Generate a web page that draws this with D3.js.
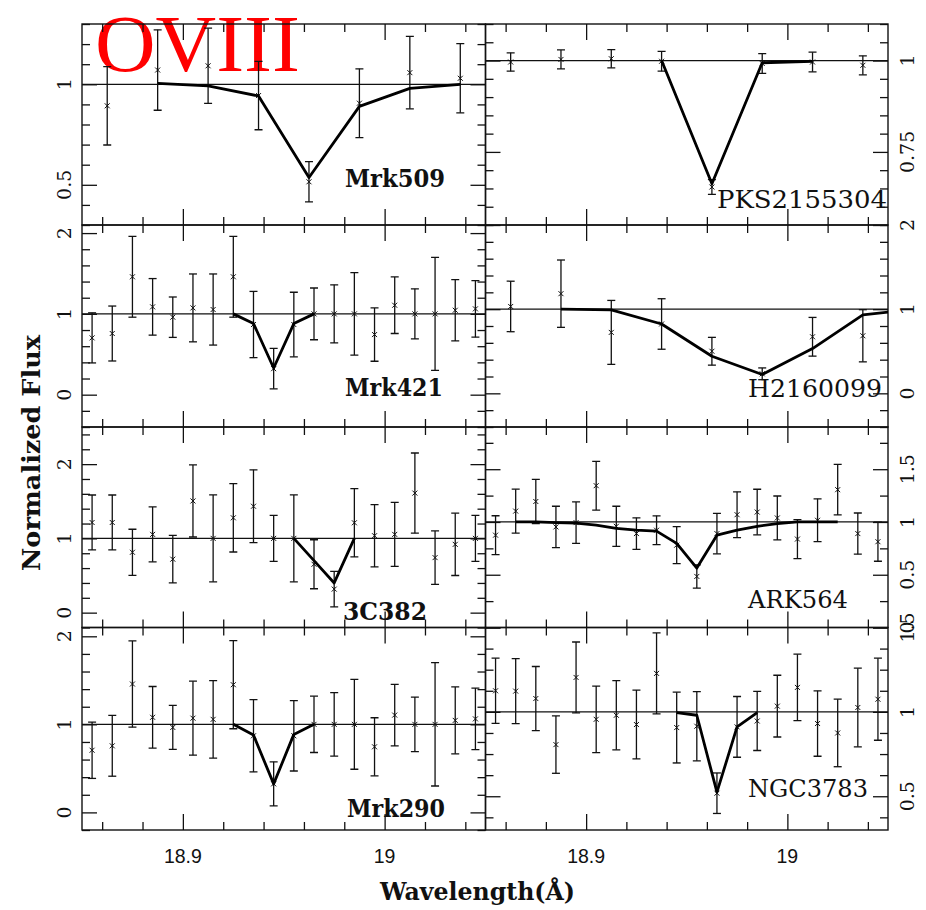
<!DOCTYPE html>
<html>
<head>
<meta charset="utf-8">
<script src="https://cdn.jsdelivr.net/npm/d3@7"></script>
<style>
  html, body { margin: 0; padding: 0; background: #ffffff; }
  svg { display: block; }
</style>
</head>
<body>
<svg id="chart" width="926" height="910"></svg>
<script>
// ---------------- DATA ----------------
const waveCoarse = [18.8625, 18.8875, 18.9125, 18.9375, 18.9625, 18.9875, 19.0125, 19.0375];
const waveFine = [18.855, 18.865, 18.875, 18.885, 18.895, 18.905, 18.915, 18.925, 18.935, 18.945,
                  18.955, 18.965, 18.975, 18.985, 18.995, 19.005, 19.015, 19.025, 19.035, 19.045];

// Mrk509
const mrk509Flux = [0.893, 1.071, 1.092, 0.944, 0.515, 0.906, 1.058, 1.030];
const mrk509Err  = [0.195, 0.200, 0.187, 0.170, 0.100, 0.171, 0.180, 0.172];
const mrk509ModelWave = [18.8875, 18.9125, 18.9375, 18.9625, 18.9875, 19.0125, 19.0375];
const mrk509Model     = [1.005, 0.992, 0.942, 0.536, 0.890, 0.980, 1.000];

// PKS2155304
const pksFlux = [0.996, 1.003, 1.005, 0.998, 0.654, 0.992, 0.996, 0.987];
const pksErr  = [0.025, 0.026, 0.025, 0.027, 0.020, 0.027, 0.027, 0.026];
const pksModelWave = [18.9375, 18.9625, 18.9875, 19.0125];
const pksModel     = [1.000, 0.663, 0.994, 0.998];

// Mrk421
const mrk421Flux = [0.703, 0.757, 1.459, 1.087, 0.959, 1.074, 1.054, 1.459, 0.868, 0.322,
                    0.868, 1.000, 1.000, 1.000, 0.744, 1.107, 1.000, 1.000, 1.045, 1.062];
const mrk421Err  = [0.31, 0.34, 0.50, 0.35, 0.25, 0.42, 0.44, 0.50, 0.41, 0.25,
                    0.40, 0.32, 0.36, 0.51, 0.33, 0.35, 0.31, 0.70, 0.38, 0.35];
const mrk421ModelWave = [18.925, 18.935, 18.945, 18.955, 18.965];
const mrk421Model     = [1.000, 0.880, 0.330, 0.880, 1.000];

// H2160099
const h216Flux = [1.032, 1.184, 0.724, 0.824, 0.500, 0.232, 0.672, 0.684];
const h216Err  = [0.30, 0.40, 0.38, 0.30, 0.165, 0.07, 0.23, 0.31];
const h216ModelWave = [18.8875, 18.9125, 18.9375, 18.9625, 18.9875, 19.0125, 19.0375, 19.0625];
const h216Model     = [1.000, 0.992, 0.824, 0.440, 0.224, 0.532, 0.932, 0.996];

// 3C382
const c382Flux = [1.214, 1.214, 0.813, 1.054, 0.720, 1.504, 1.000, 1.277, 1.433, 1.000,
                  1.000, 0.652, 0.317, 1.210, 1.036, 1.054, 1.610, 0.741, 0.920, 1.000];
const c382Err  = [0.37, 0.37, 0.31, 0.37, 0.32, 0.485, 0.585, 0.46, 0.49, 0.31,
                  0.585, 0.33, 0.24, 0.46, 0.42, 0.43, 0.54, 0.36, 0.42, 0.31];
const c382ModelWave = [18.955, 18.965, 18.975, 18.985];
const c382Model     = [1.000, 0.700, 0.400, 1.000];

// ARK564
const ark564Flux = [0.875, 1.103, 1.194, 0.953, 0.994, 1.344, 0.959, 0.890, 0.922, 0.780,
                    0.484, 0.890, 1.069, 1.094, 1.038, 0.838, 1.016, 1.306, 0.890, 0.813];
const ark564Err  = [0.184, 0.208, 0.210, 0.196, 0.196, 0.231, 0.190, 0.149, 0.136, 0.175,
                    0.110, 0.192, 0.217, 0.216, 0.208, 0.185, 0.203, 0.239, 0.195, 0.185];
const ark564ModelWave = [18.865, 18.875, 18.885, 18.895, 18.905, 18.915, 18.925, 18.935, 18.945,
                         18.955, 18.965, 18.975, 18.985, 18.995, 19.005, 19.015, 19.025];
const ark564Model     = [1.000, 1.000, 0.994, 0.990, 0.970, 0.940, 0.922, 0.913, 0.797,
                         0.563, 0.875, 0.922, 0.959, 0.984, 1.000, 1.000, 1.000];

// Mrk290
const mrk290Flux = [0.706, 0.756, 1.458, 1.080, 0.965, 1.070, 1.057, 1.450, 0.870, 0.324,
                    0.870, 1.000, 1.000, 1.000, 0.745, 1.105, 1.000, 1.000, 1.045, 1.062];
const mrk290Err  = [0.32, 0.345, 0.49, 0.35, 0.25, 0.42, 0.44, 0.50, 0.41, 0.25,
                    0.40, 0.32, 0.36, 0.51, 0.33, 0.35, 0.31, 0.70, 0.38, 0.35];
const mrk290ModelWave = [18.925, 18.935, 18.945, 18.955, 18.965];
const mrk290Model     = [1.000, 0.878, 0.324, 0.886, 1.000];

// NGC3783
const ngcFlux = [1.125, 1.123, 1.079, 0.806, 1.204, 0.956, 0.980, 0.925, 1.228, 0.907,
                 0.915, 0.518, 0.911, 0.946, 1.034, 1.145, 0.931, 0.875, 1.026, 1.075];
const ngcErr  = [0.193, 0.193, 0.190, 0.170, 0.210, 0.197, 0.205, 0.204, 0.240, 0.210,
                 0.205, 0.120, 0.180, 0.175, 0.183, 0.197, 0.194, 0.200, 0.233, 0.243];
const ngcModelWave = [18.945, 18.955, 18.965, 18.975, 18.985];
const ngcModel     = [0.996, 0.980, 0.524, 0.911, 0.996];

// Axis ticks / labels
const xDomain = [18.85, 19.05];
const xMinorTicks = [18.86, 18.88, 18.92, 18.94, 18.96, 18.98, 19.02, 19.04];
const xMajorTicks = [18.9, 19.0];
const xTickLabels = ["18.9", "19"];

const panelNames = ["Mrk509", "PKS2155304", "Mrk421", "H2160099", "3C382", "ARK564", "Mrk290", "NGC3783"];
const yDomains = [[0.3, 1.3], [0.55, 1.1], [-0.4, 2.1], [-0.4, 2.0], [-0.2, 2.5], [0, 1.9], [-0.2, 2.1], [0.3, 1.5]];
const yMajorSteps = [0.5, 0.25, 1, 1, 1, 0.5, 1, 0.5];
const yMinorSteps = [0.1, 0.05, 0.2, 0.2, 0.2, 0.25, 0.2, 0.125];
const yTickLabels = [["0.5", "1"], ["0.75", "1"], ["0", "1", "2"], ["0", "1", "2"],
                     ["0", "1", "2"], ["0", "0.5", "1", "1.5"], ["0", "1", "2"], ["0.5", "1", "1.5"]];

// ---------------- LAYOUT ----------------
const colX = [[82, 485.5], [485.5, 888]];
const rowY = [[24, 225], [225, 427], [427, 627.5], [627.5, 830]];
// label placement: [x start, baseline y, width, bold]
const labelPlace = [
  [345, 186.5, 100, true], [717, 208, 170, false],
  [345, 395.5, 98, true],  [748, 396.5, 134, false],
  [343, 620, 84, true],    [748, 608, 100, false],
  [347, 816.5, 98, true],  [748, 796.5, 120, false]
];

const panels = [
  {wave: waveCoarse, flux: mrk509Flux, err: mrk509Err, mw: mrk509ModelWave, m: mrk509Model},
  {wave: waveCoarse, flux: pksFlux, err: pksErr, mw: pksModelWave, m: pksModel},
  {wave: waveFine, flux: mrk421Flux, err: mrk421Err, mw: mrk421ModelWave, m: mrk421Model},
  {wave: waveCoarse, flux: h216Flux, err: h216Err, mw: h216ModelWave, m: h216Model},
  {wave: waveFine, flux: c382Flux, err: c382Err, mw: c382ModelWave, m: c382Model},
  {wave: waveFine, flux: ark564Flux, err: ark564Err, mw: ark564ModelWave, m: ark564Model},
  {wave: waveFine, flux: mrk290Flux, err: mrk290Err, mw: mrk290ModelWave, m: mrk290Model},
  {wave: waveFine, flux: ngcFlux, err: ngcErr, mw: ngcModelWave, m: ngcModel}
];

const svg = d3.select("#chart");
const ink = "#111";

// Title (drawn first, data over it)
svg.append("text")
  .attr("x", 95).attr("y", 71)
  .attr("font-family", "'Liberation Serif', 'Times New Roman', serif")
  .attr("font-size", 80)
  .attr("textLength", 205).attr("lengthAdjust", "spacingAndGlyphs")
  .attr("fill", "#ff0000")
  .text("OVIII");

const defs = svg.append("defs");

function stepTicks(domain, step, exclude) {
  const out = [];
  const start = Math.ceil(domain[0] / step - 1e-9);
  const end = Math.floor(domain[1] / step + 1e-9);
  for (let k = start; k <= end; k++) {
    const v = +(k * step).toFixed(6);
    if (exclude && Math.abs(v / exclude - Math.round(v / exclude)) < 1e-6) continue;
    out.push(v);
  }
  return out;
}

panels.forEach((p, i) => {
  const col = i % 2, row = Math.floor(i / 2);
  const [x0, x1] = colX[col];
  const [y0, y1] = rowY[row];
  const x = d3.scaleLinear().domain(xDomain).range([x0, x1]);
  const y = d3.scaleLinear().domain(yDomains[i]).range([y1, y0]);
  const g = svg.append("g");

  const clipId = "clip" + i;
  defs.append("clipPath").attr("id", clipId)
    .append("rect").attr("x", x0).attr("y", y0).attr("width", x1 - x0).attr("height", y1 - y0);

  // ticks (inward) on all four sides
  function addAxis(gen, tx, ty) {
    const a = g.append("g").attr("transform", `translate(${tx},${ty})`).call(gen);
    a.select(".domain").remove();
    a.selectAll("line").attr("stroke", ink).attr("stroke-width", 1.3);
    a.selectAll("text").remove();
  }
  addAxis(d3.axisBottom(x).tickValues(xMinorTicks).tickSize(-8).tickFormat(""), 0, y1);
  addAxis(d3.axisBottom(x).tickValues(xMajorTicks).tickSize(-16).tickFormat(""), 0, y1);
  addAxis(d3.axisTop(x).tickValues(xMinorTicks).tickSize(-8).tickFormat(""), 0, y0);
  addAxis(d3.axisTop(x).tickValues(xMajorTicks).tickSize(-16).tickFormat(""), 0, y0);

  const yMaj = stepTicks(yDomains[i], yMajorSteps[i], null);
  const yMin = stepTicks(yDomains[i], yMinorSteps[i], yMajorSteps[i]);
  addAxis(d3.axisLeft(y).tickValues(yMin).tickSize(-8).tickFormat(""), x0, 0);
  addAxis(d3.axisLeft(y).tickValues(yMaj).tickSize(-15).tickFormat(""), x0, 0);
  addAxis(d3.axisRight(y).tickValues(yMin).tickSize(-8).tickFormat(""), x1, 0);
  addAxis(d3.axisRight(y).tickValues(yMaj).tickSize(-15).tickFormat(""), x1, 0);

  // frame
  g.append("rect").attr("x", x0).attr("y", y0).attr("width", x1 - x0).attr("height", y1 - y0)
    .attr("fill", "none").attr("stroke", ink).attr("stroke-width", 1.4);

  // continuum at 1
  g.append("line").attr("x1", x0).attr("x2", x1).attr("y1", y(1)).attr("y2", y(1))
    .attr("stroke", ink).attr("stroke-width", 1.2);

  // error bars
  const pts = p.wave.map((w, k) => ({w, f: p.flux[k], e: p.err[k]}));
  const eb = g.append("g").attr("clip-path", `url(#${clipId})`)
    .attr("stroke", ink).attr("stroke-width", 1.3).attr("fill", "none");
  pts.forEach(d => {
    const cx = x(d.w), ylo = y(d.f - d.e), yhi = y(d.f + d.e);
    eb.append("line").attr("x1", cx).attr("x2", cx).attr("y1", ylo).attr("y2", yhi);
    eb.append("line").attr("x1", cx - 4).attr("x2", cx + 4).attr("y1", ylo).attr("y2", ylo);
    eb.append("line").attr("x1", cx - 4).attr("x2", cx + 4).attr("y1", yhi).attr("y2", yhi);
    eb.append("path")
      .attr("d", `M${cx - 2.5},${y(d.f) - 2.5}L${cx + 2.5},${y(d.f) + 2.5}M${cx - 2.5},${y(d.f) + 2.5}L${cx + 2.5},${y(d.f) - 2.5}`)
      .attr("stroke-width", 1);
  });

  // model
  const line = d3.line().x(d => x(d[0])).y(d => y(d[1]));
  g.append("path").attr("clip-path", `url(#${clipId})`)
    .datum(p.mw.map((w, k) => [w, p.m[k]]))
    .attr("d", line).attr("fill", "none").attr("stroke", "#000")
    .attr("stroke-width", 2.8).attr("stroke-linejoin", "round");

  // y tick labels (rotated)
  const labX = col === 0 ? 64 : 907;
  yTickLabels[i].forEach(t => {
    const v = +t;
    g.append("text")
      .attr("transform", `translate(${labX},${y(v)}) rotate(-90)`)
      .attr("text-anchor", "middle").attr("dominant-baseline", "central")
      .attr("font-family", "'DejaVu Serif', serif").attr("font-size", 19)
      .attr("fill", ink).text(t);
  });

  // x tick labels on bottom row
  if (row === 3) {
    xMajorTicks.forEach((v, k) => {
      g.append("text").attr("x", x(v)).attr("y", 862.5)
        .attr("text-anchor", "middle")
        .attr("font-family", "'Liberation Sans', Arial, sans-serif").attr("font-size", 19.5)
        .attr("fill", ink).text(xTickLabels[k]);
    });
  }

  // object label
  const lp = labelPlace[i];
  g.append("text").attr("x", lp[0]).attr("y", lp[1])
    .attr("font-family", "'DejaVu Serif', serif").attr("font-size", 25)
    .attr("font-weight", lp[3] ? "bold" : "normal")
    .attr("textLength", lp[2]).attr("lengthAdjust", "spacingAndGlyphs")
    .attr("fill", ink).text(panelNames[i]);
});

// axis titles
svg.append("text")
  .attr("transform", "translate(40,453) rotate(-90)")
  .attr("text-anchor", "middle")
  .attr("font-family", "'DejaVu Serif', serif").attr("font-size", 25).attr("font-weight", "bold")
  .attr("textLength", 236).attr("lengthAdjust", "spacingAndGlyphs")
  .attr("fill", ink).text("Normalized Flux");

svg.append("text")
  .attr("x", 477.5).attr("y", 900)
  .attr("text-anchor", "middle")
  .attr("font-family", "'DejaVu Serif', serif").attr("font-size", 24).attr("font-weight", "bold")
  .attr("textLength", 195).attr("lengthAdjust", "spacingAndGlyphs")
  .attr("fill", ink).text("Wavelength(Å)");
</script>
</body>
</html>
